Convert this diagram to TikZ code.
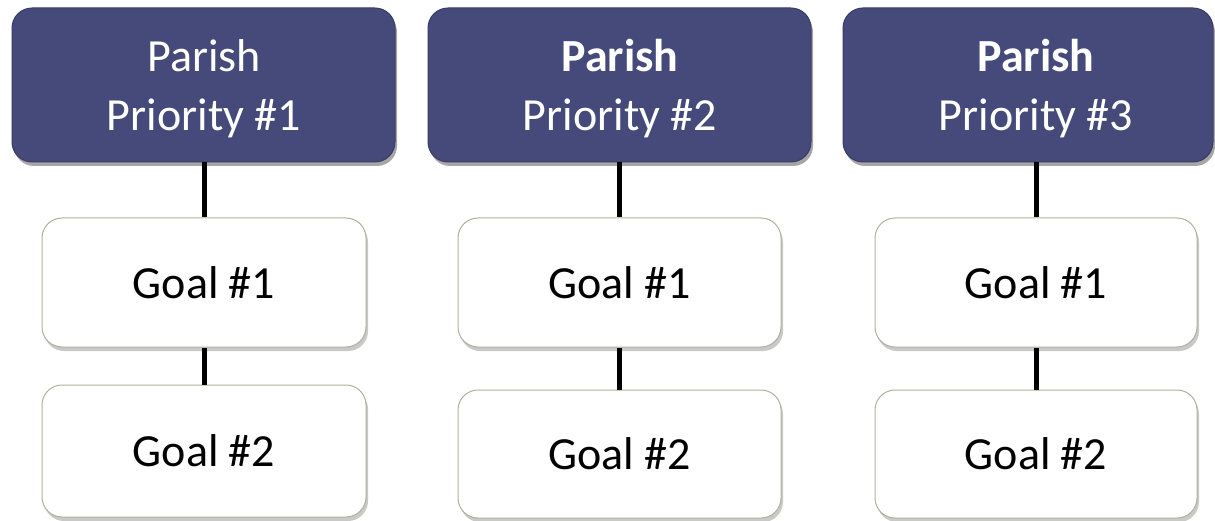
\documentclass[tikz,border=0pt]{standalone}
\usepackage{fontspec}
\setmainfont{Carlito}
\usetikzlibrary{shadows}
\definecolor{hdr}{RGB}{70,74,122}
\definecolor{hdrline}{RGB}{58,60,100}
\definecolor{goalline}{RGB}{176,176,156}
\tikzset{
  hdrbox/.style={rectangle, rounded corners=20pt, fill=hdr, draw=hdrline, line width=1pt,
    inner sep=0pt, minimum height=154pt,
    drop shadow={shadow xshift=2pt, shadow yshift=-4pt, opacity=0.35, fill=black}},
  hdrtext/.style={text=white, align=center, font=\fontsize{46}{59}\selectfont, inner sep=0pt},
  goalbox/.style={rectangle, rounded corners=20pt, fill=white, draw=goalline, line width=1pt,
    text=black, align=center, font=\fontsize{46}{56}\selectfont, inner sep=0pt,
    drop shadow={shadow xshift=2pt, shadow yshift=-4pt, opacity=0.3, fill=black!70}},
  link/.style={line width=5pt, black}
}
\begin{document}
\begin{tikzpicture}[x=1pt,y=1pt]
\useasboundingbox (0,0) rectangle (1215,-521);
% headers
\node[hdrbox, minimum width=383pt] (h1) at (203.5,-85) {};
\node[hdrbox, minimum width=383pt] (h2) at (619.5,-85) {};
\node[hdrbox, minimum width=370pt] (h3) at (1028,-85) {};
\node[hdrtext] (t1) at (204,-89) {Parish\\Priority \#1};
\node[hdrtext] (t2) at (620,-89) {\textbf{Parish}\\Priority \#2};
\node[hdrtext] (t3) at (1036,-89) {\textbf{Parish}\\Priority \#3};
% goals
\node[goalbox, minimum width=324pt, minimum height=129pt] (g11) at (204,-282.5) {Goal \#1};
\node[goalbox, minimum width=324pt, minimum height=132pt] (g12) at (204,-451) {Goal \#2};
\node[goalbox, minimum width=323pt, minimum height=129pt] (g21) at (619.5,-282.5) {Goal \#1};
\node[goalbox, minimum width=323pt, minimum height=128pt] (g22) at (619.5,-454) {Goal \#2};
\node[goalbox, minimum width=322pt, minimum height=129pt] (g31) at (1036,-282.5) {Goal \#1};
\node[goalbox, minimum width=322pt, minimum height=128pt] (g32) at (1036,-454) {Goal \#2};
% connectors
\draw[link] (h1.south -| g11.north) -- (g11.north);
\draw[link] (g11.south) -- (g12.north);
\draw[link] (h2.south -| g21.north) -- (g21.north);
\draw[link] (g21.south) -- (g22.north);
\draw[link] (h3.south -| g31.north) -- (g31.north);
\draw[link] (g31.south) -- (g32.north);
\end{tikzpicture}
\end{document}
